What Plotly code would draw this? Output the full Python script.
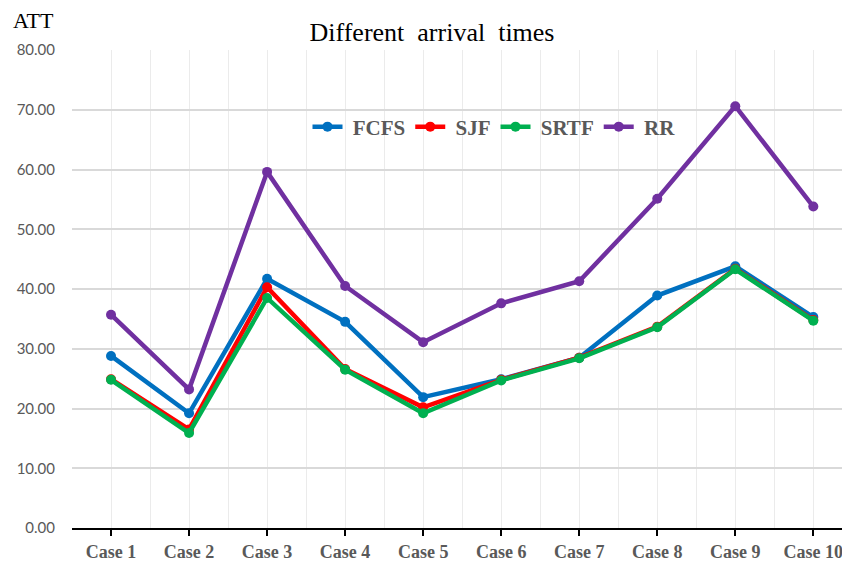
import plotly.graph_objects as go

cases = ["Case 1", "Case 2", "Case 3", "Case 4", "Case 5",
         "Case 6", "Case 7", "Case 8", "Case 9", "Case 10"]
fcfs = [28.8, 19.2, 41.7, 34.5, 21.9, 24.9, 28.5, 38.9, 43.8, 35.3]
sjf = [24.9, 16.5, 40.3, 26.6, 20.2, 24.8, 28.5, 33.7, 43.4, 34.8]
srtf = [24.8, 15.9, 38.5, 26.5, 19.2, 24.7, 28.4, 33.6, 43.3, 34.7]
rr = [35.7, 23.2, 59.6, 40.5, 31.1, 37.6, 41.3, 55.1, 70.6, 53.8]

series = [("FCFS", fcfs, "#0070C0"), ("SJF", sjf, "#FF0000"),
          ("SRTF", srtf, "#00B050"), ("RR", rr, "#7030A0")]

# The page body has an 8px default margin: the figure is sized to fit the window.
W, H = 842, 554
ML, MT, MB, MR = 64, 42, 34, 0
PW, PH = W - ML - MR, H - MT - MB

xs = list(range(len(cases)))
fig = go.Figure()
for name, vals, col in series:
    fig.add_trace(go.Scatter(x=xs, y=vals, name=" " + name, mode="lines+markers",
                             line=dict(color=col, width=4.5),
                             marker=dict(color=col, size=10)))

fig.update_layout(
    width=W, height=H,
    margin=dict(l=ML, r=MR, t=MT, b=MB, autoexpand=False),
    plot_bgcolor="white", paper_bgcolor="white",
    title=dict(text="Different  arrival  times", x=(432 - 8) / W, xanchor="center",
               y=1 - 24 / H, yanchor="middle",
               font=dict(family="Liberation Serif", size=26, color="black")),
    legend=dict(orientation="h", x=(494 - 8 - ML) / PW, xanchor="center",
                y=1 - (119 - MT) / PH, yanchor="middle",
                font=dict(family="Liberation Serif", size=21, color="#595959",
                          weight="bold"),
                bgcolor="rgba(0,0,0,0)", tracegroupgap=0),
    showlegend=True,
)
fig.update_xaxes(
    range=[-0.5, 9.47], tickvals=xs, ticktext=["<b>%s</b>" % c for c in cases],
    tickfont=dict(family="Liberation Serif", size=18, color="#595959"),
    showgrid=True, gridcolor="#EBEBEB", gridwidth=1,
    minor=dict(tick0=-0.5, dtick=1, showgrid=True, gridcolor="#EBEBEB", gridwidth=1),
    showline=True, linecolor="black", linewidth=2,
    ticks="outside", ticklen=6, tickwidth=2, tickcolor="black",
    ticklabelstandoff=0, zeroline=False,
)
fig.update_yaxes(
    range=[0, 80], dtick=10, tickformat=".2f",
    tickfont=dict(family="Lato", size=15, color="#595959"),
    showgrid=True, gridcolor="#D9D9D9", gridwidth=2,
    zeroline=False, showline=False, ticks="", ticklabelstandoff=16,
)
fig.add_annotation(text="ATT", xref="paper", yref="paper",
                   x=(3 - ML) / PW, xanchor="left", y=1 + (MT - 12) / PH, yanchor="middle",
                   showarrow=False,
                   font=dict(family="Liberation Serif", size=22, color="black"))

fig.write_html("out.html")
